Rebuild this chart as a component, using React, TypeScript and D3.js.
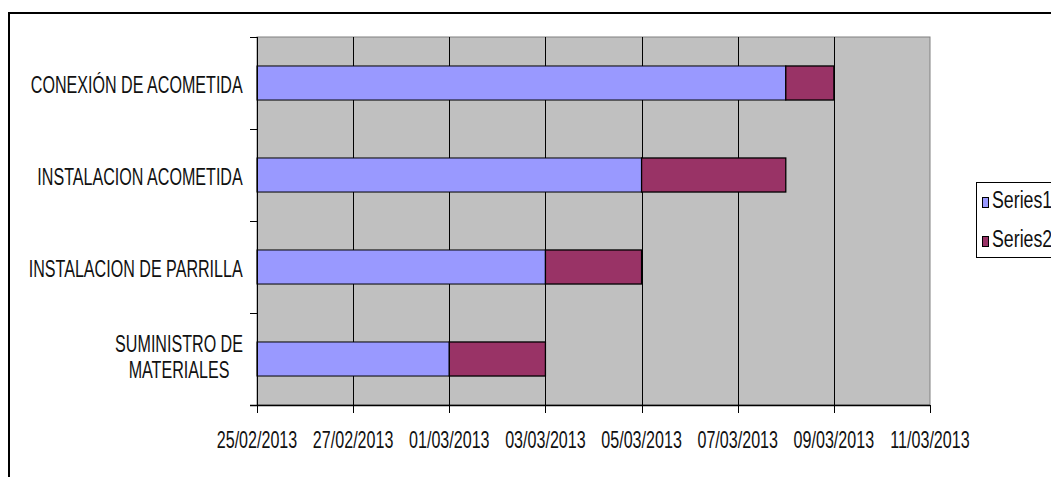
import React, { useEffect, useRef } from "react";
import * as d3 from "d3";

const categories: string[][] = [
  ["CONEXIÓN DE ACOMETIDA"],
  ["INSTALACION ACOMETIDA"],
  ["INSTALACION DE PARRILLA"],
  ["SUMINISTRO DE", "MATERIALES"],
];
const startDates: string[] = ["2013-03-08", "2013-03-05", "2013-03-03", "2013-03-01"];
const durations: number[] = [1, 3, 2, 2];
const seriesNames: string[] = ["Series1", "Series2"];
const seriesColors: string[] = ["#9999FF", "#993366"];
const axisMin = "2013-02-25";
const axisMax = "2013-03-11";

const W = 1051;
const H = 477;
const FONT = "'Liberation Sans', Arial, sans-serif";
const FS = 23;
const SX = 0.7;

export default function App() {
  const ref = useRef<SVGSVGElement | null>(null);

  useEffect(() => {
    const svg = d3.select(ref.current);
    svg.selectAll("*").remove();

    const left = 257, right = 930, top = 37, bottom = 405;
    const parse = (s: string) => {
      const [y, m, d] = s.split("-").map(Number);
      return new Date(Date.UTC(y, m - 1, d));
    };
    const x = d3.scaleUtc().domain([parse(axisMin), parse(axisMax)]).range([left, right]);
    const y = d3.scaleBand<number>().domain(d3.range(categories.length)).range([top, bottom]).paddingInner(0).paddingOuter(0);
    const barH = y.bandwidth() * 0.37;

    // outer chart border
    svg.append("rect").attr("x", 9).attr("y", 13).attr("width", 1200).attr("height", 600)
      .attr("fill", "#fff").attr("stroke", "#000").attr("stroke-width", 2);

    // plot area
    svg.append("rect").attr("x", left).attr("y", top).attr("width", right - left).attr("height", bottom - top)
      .attr("fill", "#C0C0C0").attr("stroke", "#808080").attr("stroke-width", 1);

    const ticks = x.ticks(d3.utcDay.every(2)!);
    // vertical gridlines
    svg.append("g").selectAll("line").data(ticks.filter(t => x(t) > left + 1 && x(t) < right - 1)).join("line")
      .attr("x1", d => Math.round(x(d)) + 0.5).attr("x2", d => Math.round(x(d)) + 0.5)
      .attr("y1", top).attr("y2", bottom).attr("stroke", "#000").attr("stroke-width", 1);

    // bars
    const g = svg.append("g");
    categories.forEach((_, i) => {
      const s = parse(startDates[i]);
      const e = d3.utcDay.offset(s, durations[i]);
      const by = (y(i) as number) + (y.bandwidth() - barH) / 2;
      g.append("rect").attr("x", x(parse(axisMin))).attr("y", by)
        .attr("width", x(s) - x(parse(axisMin))).attr("height", barH)
        .attr("fill", seriesColors[0]).attr("stroke", "#000").attr("stroke-width", 1);
      g.append("rect").attr("x", x(s)).attr("y", by)
        .attr("width", x(e) - x(s)).attr("height", barH)
        .attr("fill", seriesColors[1]).attr("stroke", "#000").attr("stroke-width", 1.3);
    });

    // y axis line & ticks
    svg.append("line").attr("x1", left + 0.5).attr("x2", left + 0.5).attr("y1", top).attr("y2", bottom)
      .attr("stroke", "#000");
    const bounds = d3.range(categories.length + 1).map(i => top + i * y.bandwidth());
    svg.append("g").selectAll("line").data(bounds).join("line")
      .attr("x1", left - 7).attr("x2", left).attr("y1", d => Math.round(d) + 0.5).attr("y2", d => Math.round(d) + 0.5)
      .attr("stroke", "#000");

    // x axis line & ticks
    svg.append("line").attr("x1", left - 7).attr("x2", right).attr("y1", bottom + 0.5).attr("y2", bottom + 0.5)
      .attr("stroke", "#000").attr("stroke-width", 1.3);
    svg.append("g").selectAll("line").data(ticks).join("line")
      .attr("x1", d => Math.round(x(d)) + 0.5).attr("x2", d => Math.round(x(d)) + 0.5)
      .attr("y1", bottom).attr("y2", bottom + 8).attr("stroke", "#000");

    const fmt = d3.utcFormat("%d/%m/%Y");
    svg.append("g").selectAll("text").data(ticks).join("text")
      .attr("transform", d => `translate(${x(d)},448) scale(${SX},1)`)
      .attr("text-anchor", "middle").attr("font-family", FONT).attr("font-size", FS).attr("fill", "#111")
      .text(d => fmt(d));

    // category labels
    categories.forEach((lines, i) => {
      const cy = (y(i) as number) + y.bandwidth() / 2;
      const lineH = 26;
      const firstBase = cy + 10 - ((lines.length - 1) * lineH) / 2 - (lines.length > 1 ? 4 : 0);
      const grp = svg.append("g");
      const t = grp.append("text").attr("font-family", FONT).attr("font-size", FS).attr("fill", "#111")
        .attr("text-anchor", "middle");
      lines.forEach((ln, k) => {
        t.append("tspan").attr("x", 0).attr("y", k * lineH).text(ln);
      });
      const bb = (t.node() as SVGTextElement).getBBox();
      const wScaled = bb.width * SX;
      const cx = 243 - wScaled / 2;
      grp.attr("transform", `translate(${cx},${firstBase}) scale(${SX},1)`);
    });

    // legend
    const lg = svg.append("g");
    lg.append("rect").attr("x", 976.5).attr("y", 182.5).attr("width", 120).attr("height", 75)
      .attr("fill", "#fff").attr("stroke", "#000");
    seriesNames.forEach((n, k) => {
      const ry = 197 + k * 39;
      lg.append("rect").attr("x", 982.5).attr("y", ry + 0.5).attr("width", 6).attr("height", 10)
        .attr("fill", seriesColors[k]).attr("stroke", "#000");
      lg.append("text").attr("transform", `translate(992,${ry + 11}) scale(0.74,1)`)
        .attr("font-family", FONT).attr("font-size", 24).attr("fill", "#111").text(n);
    });
  }, []);

  return (
    <svg ref={ref} width={W} height={H}
      style={{ position: "absolute", left: 0, top: 0, background: "#fff", display: "block" }} />
  );
}
